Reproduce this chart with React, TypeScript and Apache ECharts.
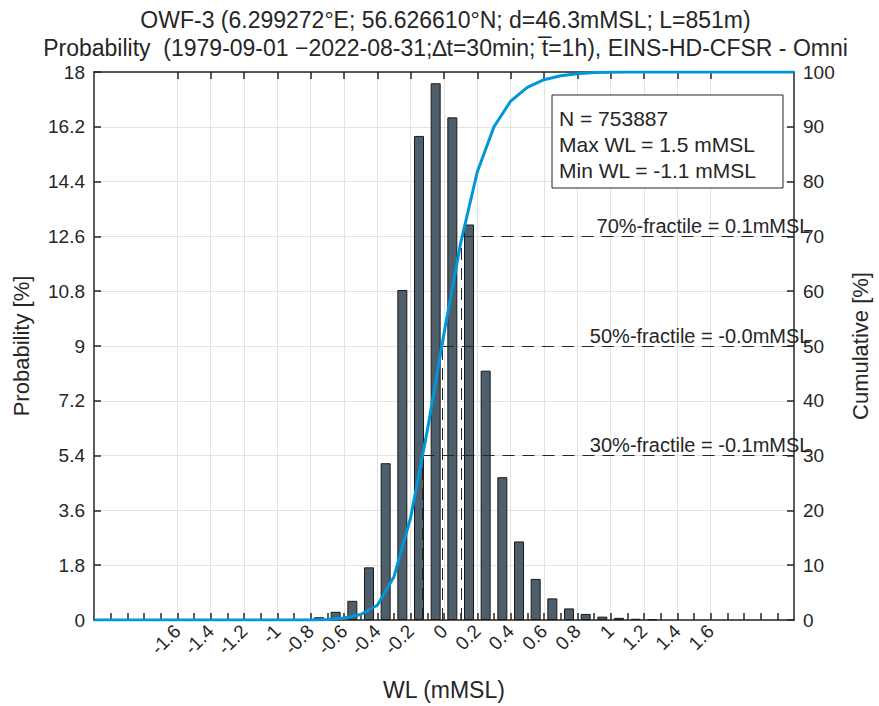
import React, { useEffect, useRef } from "react";
import * as echarts from "echarts";

// Histogram of water level, bins 0.1 m wide (centres)
const binCenters = [
  -0.85, -0.75, -0.65, -0.55, -0.45, -0.35, -0.25, -0.15, -0.05, 0.05, 0.15,
  0.25, 0.35, 0.45, 0.55, 0.65, 0.75, 0.85, 0.95, 1.05, 1.15, 1.25,
];
// Probability per bin [%]
const probability = [
  0.02, 0.09, 0.27, 0.63, 1.73, 5.15, 10.84, 15.9, 17.63, 16.51, 12.99, 8.19,
  4.69, 2.58, 1.35, 0.71, 0.38, 0.2, 0.11, 0.07, 0.04, 0.02,
];

// Cumulative distribution at the bin edges [%]
const binEdges = [
  -2.1, -2.0, -1.9, -1.8, -1.7, -1.6, -1.5, -1.4, -1.3, -1.2, -1.1, -1.0, -0.9,
  -0.8, -0.7, -0.6, -0.5, -0.4, -0.3, -0.2, -0.1, 0, 0.1, 0.2, 0.3, 0.4, 0.5,
  0.6, 0.7, 0.8, 0.9, 1.0, 1.1, 1.2, 1.3, 1.4, 1.5, 1.6, 1.7, 1.8, 1.9, 2.0, 2.1,
];
const cumulative = [
  0, 0, 0, 0, 0, 0, 0, 0, 0, 0, 0, 0, 0, 0.02, 0.11, 0.38, 1.0, 2.7, 7.9, 18.7,
  34.6, 52.3, 68.8, 81.8, 90.0, 94.7, 97.2, 98.6, 99.3, 99.7, 99.9, 99.95,
  99.98, 100, 100, 100, 100, 100, 100, 100, 100, 100, 100,
];

// Fractiles: cumulative level [%] and water level [mMSL]
const fractileLevels = [30, 50, 70];
const fractileValues = [-0.129, -0.013, 0.105];

// Axis ticks
const xLabelTicks = [
  -1.6, -1.4, -1.2, -1, -0.8, -0.6, -0.4, -0.2, 0, 0.2, 0.4, 0.6, 0.8, 1, 1.2,
  1.4, 1.6,
];
const xMinorTicks = [
  -2.0, -1.9, -1.8, -1.7, -1.6, -1.5, -1.4, -1.3, -1.2, -1.1, -1.0, -0.9, -0.8,
  -0.7, -0.6, -0.5, -0.4, -0.3, -0.2, -0.1, 0, 0.1, 0.2, 0.3, 0.4, 0.5, 0.6,
  0.7, 0.8, 0.9, 1.0, 1.1, 1.2, 1.3, 1.4, 1.5, 1.6, 1.7, 1.8, 1.9, 2.0,
];
const xMin = -2.1;
const xMax = 2.1;

// Summary statistics
const sampleCount = 753887;
const maxWL = 1.5;
const minWL = -1.1;

const titleLines = [
  "OWF-3 (6.299272°E; 56.626610°N; d=46.3mMSL; L=851m)",
  "Probability  (1979-09-01 \u22122022-08-31;\u2206t=30min; t\u0305=1h), EINS-HD-CFSR - Omni",
];

const FONT = "'Liberation Sans', Arial, Helvetica, sans-serif";
const INK = "#262626";
const TICK_FS = 19;
const NAME_FS = 22;
const NOTE_FS = 20;

const fmt1 = (v: number) => String(Math.round(v * 10) / 10);

export default function App() {
  const ref = useRef<HTMLDivElement>(null);

  useEffect(() => {
    if (!ref.current) return;
    const chart = echarts.init(ref.current, undefined, { renderer: "svg" });

    const barData = binCenters.map((x, i) => [x, probability[i]]);
    const cumData = binEdges.map((x, i) => [x, cumulative[i]]);

    const fractileLines: any[] = [];
    fractileLevels.forEach((lvl, i) => {
      const f = fractileValues[i];
      fractileLines.push([{ coord: [f, lvl] }, { coord: [xMax, lvl] }]);
      fractileLines.push([{ coord: [f, 0] }, { coord: [f, lvl] }]);
    });

    const fractileLabels = fractileLevels.map((lvl, i) => ({
      coord: [xMax, lvl],
      label: {
        formatter: `${lvl}%-fractile = ${fractileValues[i].toFixed(1)}mMSL`,
      },
    }));

    const statsText = [
      `N = ${sampleCount}`,
      `Max WL = ${maxWL.toFixed(1)} mMSL`,
      `Min WL = ${minWL.toFixed(1)} mMSL`,
    ].join("\n");

    chart.setOption({
      animation: false,
      textStyle: { fontFamily: FONT, color: INK },
      grid: { left: 94, right: 82, top: 72, bottom: 86, containLabel: false },
      xAxis: [
        {
          type: "value",
          min: xMin,
          max: xMax,
          position: "bottom",
          name: "WL (mMSL)",
          nameLocation: "middle",
          nameGap: 58,
          nameTextStyle: { fontSize: 23, color: INK, fontFamily: FONT },
          axisLine: { show: true, onZero: false, lineStyle: { color: INK, width: 1.5 } },
          axisTick: {
            show: true,
            inside: true,
            length: 7,
            customValues: xMinorTicks,
            lineStyle: { color: INK, width: 1.5 },
          },
          axisLabel: {
            customValues: xLabelTicks,
            rotate: 45,
            fontSize: TICK_FS,
            color: INK,
            fontFamily: FONT,
            margin: 8,
            formatter: (v: number) => fmt1(v),
          },
          splitLine: { show: false },
        },
        {
          type: "value",
          min: xMin,
          max: xMax,
          position: "top",
          axisLine: { show: true, onZero: false, lineStyle: { color: INK, width: 1.5 } },
          axisTick: {
            show: true,
            inside: true,
            length: 7,
            customValues: xLabelTicks,
            lineStyle: { color: INK, width: 1.5 },
          },
          axisLabel: { show: false },
          splitLine: { show: true, lineStyle: { color: "#e3e3e3", width: 1 } },
        },
      ],
      yAxis: [
        {
          type: "value",
          min: 0,
          max: 18,
          interval: 1.8,
          position: "left",
          name: "Probability [%]",
          nameLocation: "middle",
          nameRotate: 90,
          nameGap: 62,
          nameTextStyle: { fontSize: NAME_FS, color: INK, fontFamily: FONT },
          axisLine: { show: true, onZero: false, lineStyle: { color: INK, width: 1.5 } },
          axisTick: { show: true, inside: true, length: 7, lineStyle: { color: INK, width: 1.5 } },
          axisLabel: {
            fontSize: TICK_FS,
            color: INK,
            fontFamily: FONT,
            margin: 9,
            formatter: (v: number) => fmt1(v),
          },
          splitLine: { show: true, lineStyle: { color: "#e3e3e3", width: 1 } },
        },
        {
          type: "value",
          min: 0,
          max: 100,
          interval: 10,
          position: "right",
          name: "Cumulative [%]",
          nameLocation: "middle",
          nameRotate: 90,
          nameGap: 55,
          nameTextStyle: { fontSize: NAME_FS, color: INK, fontFamily: FONT },
          axisLine: { show: true, onZero: false, lineStyle: { color: INK, width: 1.5 } },
          axisTick: { show: true, inside: true, length: 7, lineStyle: { color: INK, width: 1.5 } },
          axisLabel: { fontSize: TICK_FS, color: INK, fontFamily: FONT, margin: 9 },
          splitLine: { show: false },
        },
      ],
      series: [
        {
          type: "bar",
          xAxisIndex: 0,
          yAxisIndex: 0,
          data: barData,
          barWidth: 10,
          itemStyle: { color: "#4e5e6b", borderColor: "#1a1a1a", borderWidth: 1 },
          z: 2,
        },
        {
          type: "line",
          xAxisIndex: 0,
          yAxisIndex: 1,
          data: cumData,
          showSymbol: false,
          symbol: "none",
          lineStyle: { color: "#0096d9", width: 3 },
          itemStyle: { color: "#0096d9" },
          z: 4,
          markLine: {
            silent: true,
            symbol: "none",
            animation: false,
            label: { show: false },
            lineStyle: { color: INK, width: 1, type: [12, 8] },
            data: fractileLines,
            z: 3,
          },
          markPoint: {
            silent: true,
            symbol: "circle",
            symbolSize: 1,
            itemStyle: { color: "rgba(0,0,0,0)" },
            label: {
              show: true,
              position: [17, -10],
              align: "right",
              verticalAlign: "middle",
              fontSize: NOTE_FS,
              color: INK,
              fontFamily: FONT,
            },
            data: fractileLabels,
          },
        },
      ],
      graphic: [
        {
          type: "text",
          x: 445.5,
          y: 20,
          style: {
            text: titleLines[0],
            font: `23px ${FONT}`,
            fill: INK,
            align: "center",
            verticalAlign: "middle",
          },
        },
        {
          type: "text",
          x: 445.5,
          y: 48,
          style: {
            text: titleLines[1],
            font: `23px ${FONT}`,
            fill: INK,
            align: "center",
            verticalAlign: "middle",
          },
        },
        {
          type: "rect",
          shape: { x: 552, y: 95, width: 231, height: 93 },
          style: { fill: "#ffffff", stroke: INK, lineWidth: 1 },
          z: 10,
        },
        {
          type: "text",
          x: 559,
          y: 144,
          z: 11,
          style: {
            text: statsText,
            font: `21px ${FONT}`,
            fill: INK,
            align: "left",
            verticalAlign: "middle",
            lineHeight: 26,
          },
        },
      ],
    });

    return () => chart.dispose();
  }, []);

  return (
    <div
      ref={ref}
      style={{ position: "absolute", left: 0, top: 0, width: 879, height: 706 }}
    />
  );
}
